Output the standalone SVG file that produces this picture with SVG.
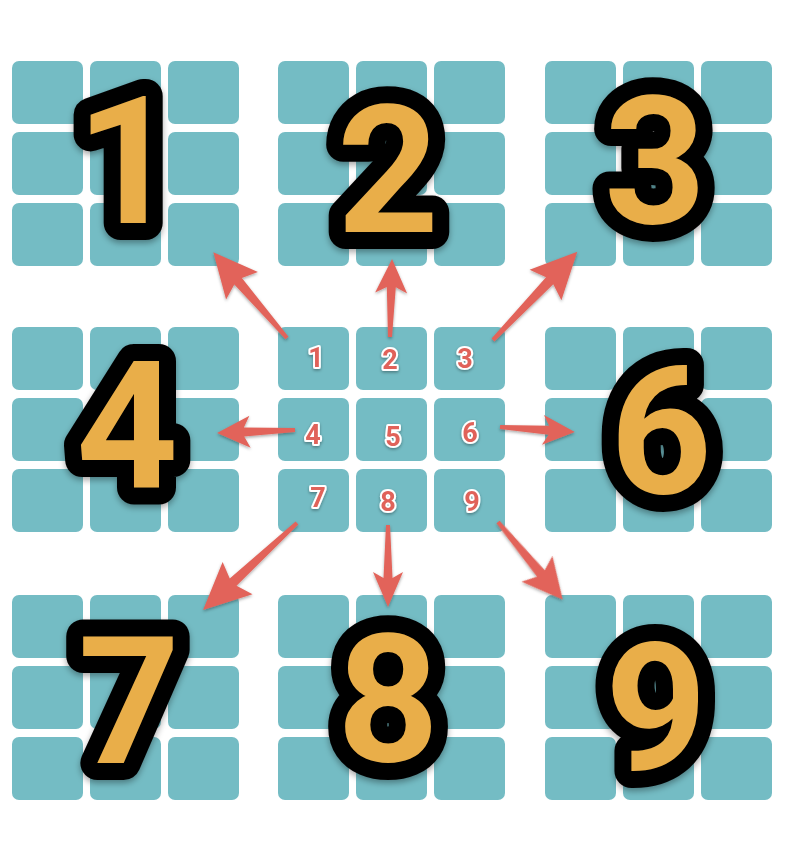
<svg xmlns="http://www.w3.org/2000/svg" width="794" height="857" viewBox="0 0 794 857">
<style>
.cell{fill:#74BCC4}
.arr{fill:#E2645A}
</style>
<defs>
<filter id="sh" x="-20%" y="-20%" width="140%" height="140%"><feDropShadow dx="0" dy="3" stdDeviation="3" flood-color="#000" flood-opacity="0.35"/></filter>
<filter id="sh2" x="-30%" y="-30%" width="160%" height="160%"><feDropShadow dx="0" dy="1.5" stdDeviation="1.5" flood-color="#000" flood-opacity="0.35"/></filter>
<g id="blk">
<rect class="cell" x="0" y="0" width="71" height="63" rx="7"/>
<rect class="cell" x="78" y="0" width="71" height="63" rx="7"/>
<rect class="cell" x="156" y="0" width="71" height="63" rx="7"/>
<rect class="cell" x="0" y="71" width="71" height="63" rx="7"/>
<rect class="cell" x="78" y="71" width="71" height="63" rx="7"/>
<rect class="cell" x="156" y="71" width="71" height="63" rx="7"/>
<rect class="cell" x="0" y="142" width="71" height="63" rx="7"/>
<rect class="cell" x="78" y="142" width="71" height="63" rx="7"/>
<rect class="cell" x="156" y="142" width="71" height="63" rx="7"/>
</g>
</defs>
<rect width="794" height="857" fill="#fff"/>
<g id="blocks">
<use href="#blk" x="12" y="61"/>
<use href="#blk" x="278" y="61"/>
<use href="#blk" x="545" y="61"/>
<use href="#blk" x="12" y="327"/>
<use href="#blk" x="278" y="327"/>
<use href="#blk" x="545" y="327"/>
<use href="#blk" x="12" y="595"/>
<use href="#blk" x="278" y="595"/>
<use href="#blk" x="545" y="595"/>
</g>
<g id="big-numbers" font-family="Roboto, 'Liberation Sans', sans-serif" font-weight="700" font-size="178" fill="#E9AE48" stroke="#000" stroke-width="34" stroke-linejoin="round" paint-order="stroke" text-anchor="middle" filter="url(#sh)">
<text id="n1" x="127" y="223">1</text>
<text id="n2" x="388" y="232">2</text>
<text id="n3" x="655" y="223">3</text>
<text id="n4" x="127" y="488">4</text>
<text id="n6" x="661" y="493">6</text>
<text id="n7" x="129" y="763">7</text>
<text id="n8" x="388" y="761">8</text>
<text id="n9" x="656" y="770">9</text>
</g>
<g id="small-numbers" font-family="Roboto, 'Liberation Sans', sans-serif" font-weight="700" font-size="27" fill="#E0625A" stroke="#fff" stroke-width="4" stroke-linejoin="round" paint-order="stroke" text-anchor="middle" filter="url(#sh2)">
<text x="316" y="367">1</text>
<text x="390" y="369">2</text>
<text x="465" y="368">3</text>
<text x="313" y="444">4</text>
<text x="393" y="446">5</text>
<text x="470" y="442">6</text>
<text x="318" y="507">7</text>
<text x="388" y="511">8</text>
<text x="472" y="511">9</text>
</g>
<g id="connectors" filter="url(#sh2)">
<path class="arr" transform="translate(287,338) rotate(-130.7)" d="M0,-2 L75,-5 L69,-21 L113,0 L69,21 L75,5 L0,2Z"/>
<path class="arr" transform="translate(390,337) rotate(-88.5)" d="M0,-2 L50,-4.5 L44,-16 L78,0 L44,16 L50,4.5 L0,2Z"/>
<path class="arr" transform="translate(493,340) rotate(-46.3)" d="M0,-2 L82,-5 L76,-22 L122,0 L76,22 L82,5 L0,2Z"/>
<path class="arr" transform="translate(295,430) rotate(177.8)" d="M0,-2 L51,-4.5 L45,-16 L78,0 L45,16 L51,4.5 L0,2Z"/>
<path class="arr" transform="translate(500,427) rotate(3.8)" d="M0,-2 L49,-4.5 L43,-15 L75,0 L43,15 L49,4.5 L0,2Z"/>
<path class="arr" transform="translate(297,523) rotate(137.2)" d="M0,-2 L87,-5 L81,-22 L128,0 L81,22 L87,5 L0,2Z"/>
<path class="arr" transform="translate(388,525) rotate(90)" d="M0,-2 L53,-4.5 L47,-15 L82,0 L47,15 L53,4.5 L0,2Z"/>
<path class="arr" transform="translate(498,522) rotate(50.2)" d="M0,-2 L67,-5 L61,-20 L101,0 L61,20 L67,5 L0,2Z"/>
</g>
</svg>
